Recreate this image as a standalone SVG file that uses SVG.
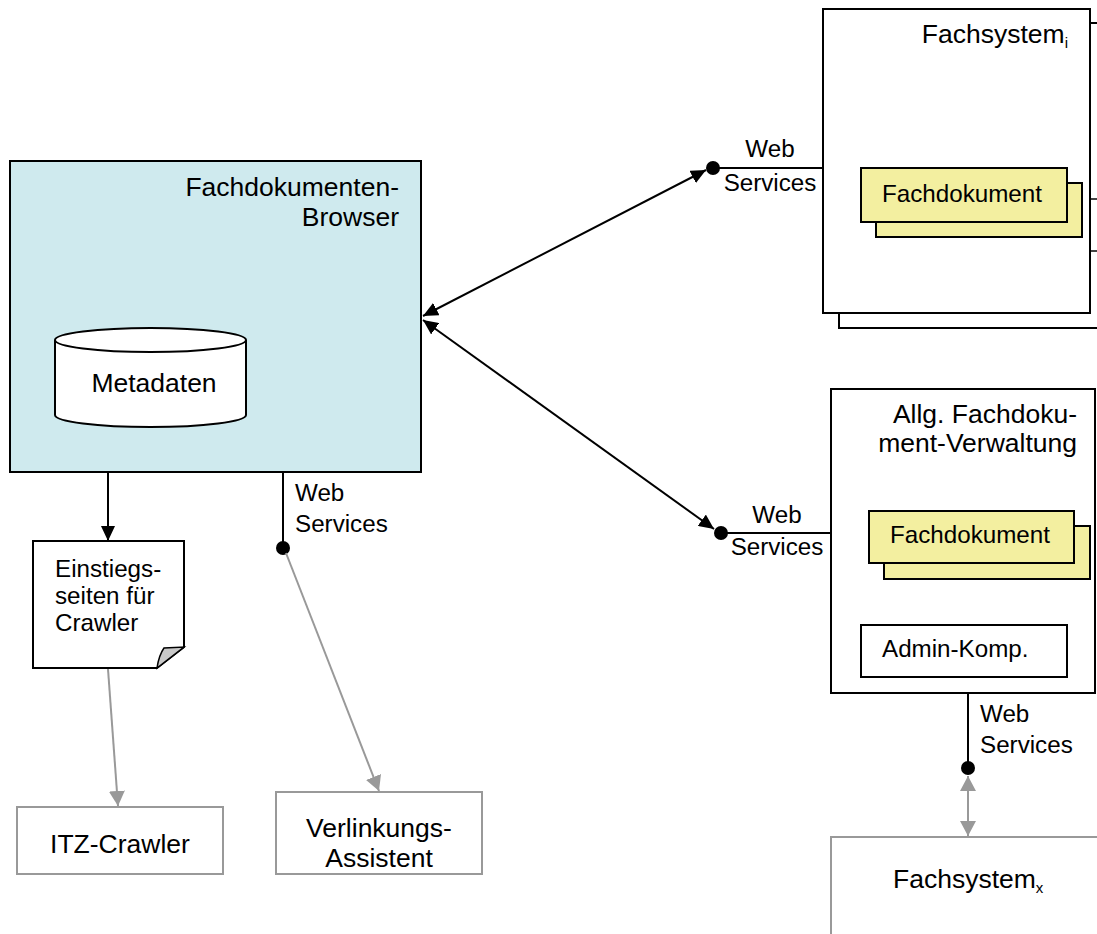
<svg xmlns="http://www.w3.org/2000/svg" width="1097" height="934" viewBox="0 0 1097 934">
<style>
.t{font-family:"Liberation Sans",Arial,sans-serif;font-size:26.5px;fill:#000}
.s{font-size:24.2px}
.box{fill:#fff;stroke:#000;stroke-width:2}
.gbox{fill:#fff;stroke:#999;stroke-width:2}
.fd{fill:#f3efa0;stroke:#000;stroke-width:2}
.ln{stroke:#000;stroke-width:2;fill:none}
.gl{stroke:#999;stroke-width:2;fill:none}
</style>
<defs>
<marker id="ab" markerUnits="userSpaceOnUse" markerWidth="16" markerHeight="14" refX="15" refY="7" orient="auto-start-reverse"><path d="M0,0 L15,7 L0,14 Z" fill="#000"/></marker>
<marker id="ag" markerUnits="userSpaceOnUse" markerWidth="16" markerHeight="16" refX="15" refY="8" orient="auto-start-reverse"><path d="M0,0 L15,8 L0,16 Z" fill="#999"/></marker>
</defs>
<rect width="1097" height="934" fill="#fff"/>

<g id="fachsystem-i">
<rect x="839" y="23" width="280" height="305" class="box"/>
<rect x="1090" y="199" width="30" height="52" fill="#fff" stroke="#444" stroke-width="2"/>
<rect x="823" y="9" width="267" height="304" class="box"/>
<text class="t" x="1068" y="43" text-anchor="end">Fachsystem<tspan font-size="15" dy="5">i</tspan></text>
<rect x="876" y="183" width="206" height="54" class="fd"/>
<rect x="861" y="168" width="206" height="54" class="fd"/>
<text class="t s" x="882" y="202">Fachdokument</text>
</g>

<g id="browser">
<rect x="10" y="161" width="411" height="311" fill="#cfeaee" stroke="#000" stroke-width="2"/>
<text class="t" x="399" y="196" text-anchor="end">Fachdokumenten-</text>
<text class="t" x="399" y="226" text-anchor="end">Browser</text>
</g>

<g id="metadaten">
<path d="M55,340 V415 A95.5,12 0 0 0 246,415 V340" class="box"/>
<ellipse cx="150.5" cy="340" rx="95.5" ry="12" class="box"/>
<text class="t" x="154" y="392" text-anchor="middle">Metadaten</text>
</g>

<g id="einstiegsseiten">
<path d="M33,541 H184 V647 L157,668 H33 Z" class="box"/>
<path d="M157,668 Q159,655 164,648 L184,647 Z" fill="#c8c8c8" stroke="#000" stroke-width="1.5"/>
<text class="t s" x="55" y="577">Einstiegs-</text>
<text class="t s" x="55" y="604">seiten für</text>
<text class="t s" x="55" y="631">Crawler</text>
</g>

<g id="allg-verwaltung">
<rect x="831" y="389" width="264" height="304" class="box"/>
<text class="t" x="1077" y="423" text-anchor="end">Allg. Fachdoku-</text>
<text class="t" x="1077" y="452" text-anchor="end">ment-Verwaltung</text>
<rect x="884" y="526" width="206" height="53" class="fd"/>
<rect x="869" y="511" width="205" height="52" class="fd"/>
<text class="t s" x="890" y="543">Fachdokument</text>
<rect x="861" y="625" width="206" height="52" class="box"/>
<text class="t s" x="882" y="657">Admin-Komp.</text>
</g>

<g id="fachsystem-x">
<rect x="831" y="837" width="300" height="120" class="gbox"/>
<text class="t" x="893" y="888">Fachsystem<tspan font-size="15" dy="5">x</tspan></text>
</g>

<g id="itz-crawler">
<rect x="17" y="807" width="206" height="67" class="gbox"/>
<text class="t" x="120" y="853" text-anchor="middle">ITZ-Crawler</text>
</g>

<g id="verlinkungs-assistent">
<rect x="276" y="792" width="206" height="82" class="gbox"/>
<text class="t" x="379" y="837" text-anchor="middle">Verlinkungs-</text>
<text class="t" x="379" y="867" text-anchor="middle">Assistent</text>
</g>

<g id="connectors">
<line x1="108" y1="472" x2="108" y2="541" class="ln" marker-end="url(#ab)"/>
<line x1="423" y1="316" x2="706" y2="170" class="ln" marker-start="url(#ab)" marker-end="url(#ab)"/>
<line x1="423" y1="320" x2="714" y2="529" class="ln" marker-start="url(#ab)" marker-end="url(#ab)"/>
<line x1="713" y1="168" x2="823" y2="168" class="ln"/>
<line x1="721" y1="533" x2="831" y2="533" class="ln"/>
<line x1="283" y1="472" x2="283" y2="548" class="ln"/>
<line x1="968" y1="693" x2="968" y2="768" class="ln"/>
<circle cx="713" cy="168" r="7"/>
<circle cx="721" cy="533" r="7"/>
<circle cx="283" cy="548" r="7"/>
<circle cx="968" cy="768" r="7"/>
<line x1="108" y1="669" x2="118" y2="806" class="gl" marker-end="url(#ag)"/>
<line x1="286" y1="553" x2="379" y2="791" class="gl" marker-end="url(#ag)"/>
<line x1="968" y1="776" x2="968" y2="836" class="gl" marker-start="url(#ag)" marker-end="url(#ag)"/>
<text class="t s" x="770" y="157" text-anchor="middle">Web</text>
<text class="t s" x="770" y="191" text-anchor="middle">Services</text>
<text class="t s" x="777" y="523" text-anchor="middle">Web</text>
<text class="t s" x="777" y="555" text-anchor="middle">Services</text>
<text class="t s" x="295" y="501">Web</text>
<text class="t s" x="295" y="532">Services</text>
<text class="t s" x="980" y="722">Web</text>
<text class="t s" x="980" y="753">Services</text>
</g>
</svg>
